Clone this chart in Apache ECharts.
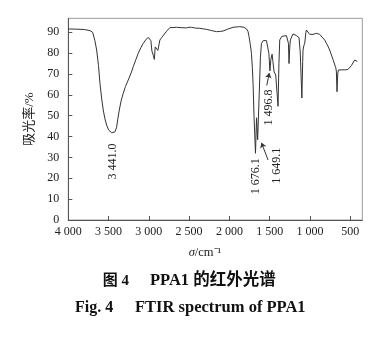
<!DOCTYPE html>
<html>
<head>
<meta charset="utf-8">
<script src="https://cdn.jsdelivr.net/npm/echarts@6/dist/echarts.min.js"></script>
<style>
html,body{margin:0;padding:0;background:#fff;}
#c{width:389px;height:338px;}
</style>
</head>
<body>
<div id="c"></div>
<script>
// Wavenumber (cm^-1) and absorbance (%)
const wavenumber = [4000,3900,3800,3731,3698,3670,3648,3625,3607,3585,3566,3545,3524,3500,3483,3460,3441,3420,3400,3385,3367,3345,3318,3290,3256,3220,3194,3160,3132,3100,3070,3040,3008,2987,2975,2962,2945,2932,2921,2904,2888,2863,2840,2822,2780,2739,2700,2656,2600,2532,2500,2470,2420,2367,2320,2284,2220,2160,2120,2078,2020,1954,1900,1871,1820,1788,1770,1756,1740,1726,1715,1706,1694,1676,1663,1649,1630,1615,1602,1580,1561,1540,1520,1510,1497,1485,1470,1460,1445,1435,1425,1416,1396,1385,1375,1350,1334,1292,1275,1267,1260,1252,1243,1210,1168,1135,1120,1114,1100,1090,1086,1075,1065,1050,1044,1024,1003,962,920,900,880,858,817,785,755,714,680,672,664,655,647,600,560,528,486,445,435,424,412];
const absorbance = [91.6,91.5,91.3,90.8,90.0,86,81.5,74,65.5,58,52.7,48.5,45.5,43.2,42.4,41.8,41.5,42.3,44.5,48.5,52.7,57,60.7,64,67.1,70.5,73.5,77,79.9,82.5,84.7,86.3,87.6,88.4,86,81,79,77,83,82.3,81.3,86.3,87.5,88.2,90.5,92.2,92.3,92.4,92.2,92.1,92.4,92.4,92,91.9,91.6,91.4,90.8,90.3,90.4,90.6,91.5,92.4,92.6,92.7,92.4,91.6,90.5,87.9,84,79.9,73,65.5,49.5,32,49,38.5,60,78,84.7,86,86.3,86,85.5,80,71.5,77,79.5,76,71,71.5,69.5,68.7,54.5,75,86.3,88,88.4,88.4,87.5,84.7,75,82,86.3,89.2,88.4,87.4,80,73.5,58.5,76,81.5,83.6,84.7,90,91.1,90.3,89,89,89.5,90,89,88.2,86.3,84,81.5,77,73,71.4,61.5,70,71.9,72,72,72.2,74,76.7,77.5,76.2,76];

const xTicks = [4000,3500,3000,2500,2000,1500,1000,500];
const yTicks = [0,10,20,30,40,50,60,70,80,90];

// Peak annotations: label text, anchor (wavenumber, value) for label centre
const peakLabels = ['3 441.0','1 676.1','1 649.1','1 496.8'];
const peakLabelX = [3442,1673,1412,1511];
const peakLabelY = [28.0,21.0,26.0,53.9];
// Arrows: [fromX, fromY, toX, toY] in data units
const arrows = [[1520,28.8,1602,37.0],[1536,64.5,1505,70.5]];

const serif = '"Liberation Serif","Times New Roman",serif';
const cjk = '"Liberation Serif","Noto Sans CJK SC",serif';
const chart = echarts.init(document.getElementById('c'), null, {renderer:'canvas'});

const fmtX = v => {
  const s = String(v);
  return s.length > 3 ? s.slice(0, s.length-3) + ' ' + s.slice(-3) : s;
};

chart.setOption({
  animation:false,
  backgroundColor:'#fff',
  grid:{left:68.3,right:26.7,top:18.3,bottom:118,show:true,borderColor:'#999',borderWidth:1},
  xAxis:{
    type:'value', inverse:true, min:350, max:4000,
    axisLine:{show:true,lineStyle:{color:'#555',width:1}},
    axisTick:{show:true,inside:true,length:4,lineStyle:{color:'#555'},customValues:xTicks},
    splitLine:{show:false},
    axisLabel:{
      color:'#222', fontFamily:serif, fontSize:12, margin:6,
      showMinLabel:true, showMaxLabel:true, hideOverlap:false,
      customValues: xTicks,
      formatter: v => fmtX(v)
    }
  },
  yAxis:{
    type:'value', min:0, max:96.7,
    axisLine:{show:true,lineStyle:{color:'#555',width:1}},
    axisTick:{show:true,inside:true,length:4,lineStyle:{color:'#555'},customValues:yTicks},
    splitLine:{show:false},
    axisLabel:{color:'#222',fontFamily:serif,fontSize:12,margin:9,customValues:yTicks,
      showMinLabel:true, hideOverlap:false, formatter: v => String(v)},
    name:'吸光率/%', nameLocation:'middle', nameGap:25, nameRotate:90,
    nameTextStyle:{color:'#222',fontFamily:cjk,fontSize:13}
  },
  series:[{
    type:'line', showSymbol:false, symbol:'none',
    data: wavenumber.map((w,i)=>[w, absorbance[i]]),
    lineStyle:{color:'#333',width:1},
    markLine:{
      silent:true, symbol:['none','arrow'], symbolSize:5, animation:false,
      label:{show:false},
      lineStyle:{color:'#333',width:1,type:'solid'},
      data: arrows.map(a=>[{coord:[a[0],a[1]]},{coord:[a[2],a[3]]}])
    }
  }]
});

const g = [];
peakLabels.forEach((t,i)=>{
  const p = chart.convertToPixel({gridIndex:0},[peakLabelX[i],peakLabelY[i]]);
  g.push({type:'text', x:p[0], y:p[1], rotation:Math.PI/2,
    style:{text:t, fill:'#222', font:'12px '+serif, textAlign:'center', textVerticalAlign:'middle'}});
});
g.push({type:'text', x:205, y:253, style:{text:'{i|σ}/cm⁻¹', fill:'#222', font:'12.5px '+serif,
  rich:{i:{fontStyle:'italic', fontFamily:serif, fontSize:12.5, fill:'#222'}},
  textAlign:'center', textVerticalAlign:'middle'}});
g.push({type:'text', x:102.7, y:281, style:{text:'图 4', fill:'#111', font:'bold 15px '+cjk, textAlign:'left', textVerticalAlign:'middle'}});
g.push({type:'text', x:150, y:281, style:{text:'PPA1 的红外光谱', fill:'#111', font:'bold 16.5px '+cjk, textAlign:'left', textVerticalAlign:'middle'}});
g.push({type:'text', x:75, y:308, style:{text:'Fig. 4', fill:'#111', font:'bold 16px '+serif, textAlign:'left', textVerticalAlign:'middle'}});
g.push({type:'text', x:135, y:308, style:{text:'FTIR spectrum of PPA1', fill:'#111', font:'bold 16.5px '+serif, textAlign:'left', textVerticalAlign:'middle'}});
chart.setOption({graphic:g});
</script>
</body>
</html>
